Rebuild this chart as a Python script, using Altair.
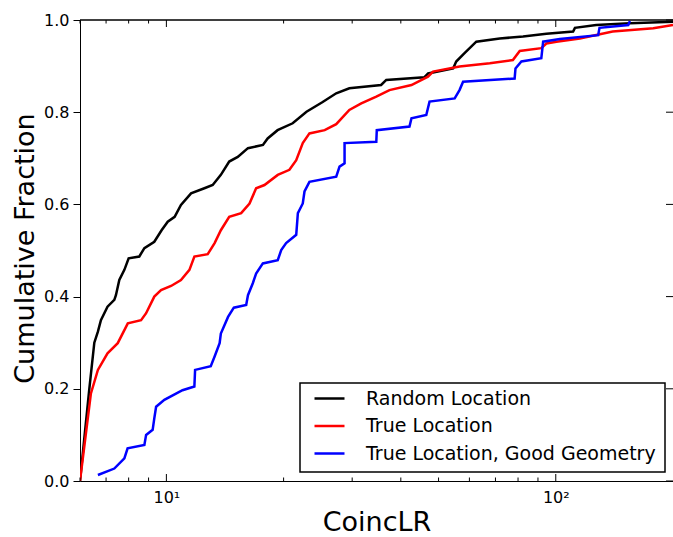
import altair as alt
import pandas as pd

# ---- data (CoincLR vs cumulative fraction) ----
black_x = [6.0, 6.34, 6.53, 6.67, 6.79, 7.06, 7.35, 7.42, 7.57, 7.80, 8.0, 8.52, 8.78, 9.31,
           9.72, 10.08, 10.5, 10.9, 11.57, 12.52, 13.15, 13.8, 14.5, 15.25, 16.2, 17.7, 18.2,
           19.3, 21.1, 22.9, 25.2, 27.3, 29.5, 35.6, 36.7, 46.0, 47.0, 54.5, 55.5, 58.3, 62.5,
           71.8, 82.4, 94.6, 110.8, 112.0, 127.0, 155.0, 200.0]
black_y = [0.0, 0.20, 0.30, 0.324, 0.349, 0.378, 0.393, 0.403, 0.436, 0.458, 0.483, 0.487, 0.505,
           0.519, 0.544, 0.5625, 0.573, 0.599, 0.624, 0.635, 0.642, 0.664, 0.693, 0.703, 0.722,
           0.729, 0.743, 0.761, 0.776, 0.801, 0.822, 0.841, 0.852, 0.859, 0.870, 0.876, 0.884,
           0.895, 0.910, 0.928, 0.953, 0.960, 0.964, 0.970, 0.975, 0.983, 0.989, 0.993, 0.996]

red_x = [6.0, 6.40, 6.67, 7.06, 7.5, 7.96, 8.61, 8.87, 9.31, 9.69, 10.28, 10.9, 11.46, 11.8,
         12.77, 13.3, 13.8, 14.5, 15.56, 16.35, 17.0, 17.86, 19.32, 20.7, 21.55, 22.4, 23.3,
         25.5, 27.3, 29.5, 31.66, 34.6, 37.4, 42.6, 46.96, 48.4, 56.6, 67.7, 77.6, 80.8, 91.8,
         94.6, 100.4, 115.3, 140.0, 178.0, 200.0]
red_y = [0.0, 0.19, 0.241, 0.277, 0.299, 0.342, 0.349, 0.364, 0.400, 0.414, 0.423, 0.436, 0.458,
         0.487, 0.492, 0.516, 0.544, 0.573, 0.581, 0.602, 0.635, 0.642, 0.664, 0.675, 0.696,
         0.733, 0.754, 0.761, 0.774, 0.805, 0.819, 0.834, 0.848, 0.859, 0.877, 0.888, 0.899,
         0.906, 0.913, 0.933, 0.939, 0.949, 0.953, 0.960, 0.975, 0.982, 0.989]

blue_x = [6.67, 7.35, 7.8, 7.95, 8.78, 8.87, 9.22, 9.31, 9.41, 9.88, 11.0, 11.8, 11.85, 13.0,
          13.3, 13.7, 13.8, 14.4, 14.9, 16.03, 16.2, 16.67, 17.0, 17.69, 19.32, 19.72, 20.3,
          21.55, 21.76, 22.4, 22.63, 23.3, 27.3, 27.84, 28.68, 28.68, 34.6, 34.7, 42.1, 42.6,
          46.5, 47.4, 55.0, 56.6, 57.8, 78.4, 78.8, 81.6, 91.8, 92.8, 102.4, 128.5, 129.5,
          153.5, 155.0]
blue_y = [0.013, 0.027, 0.049, 0.071, 0.078, 0.100, 0.111, 0.136, 0.161, 0.176, 0.197, 0.205,
          0.241, 0.249, 0.270, 0.299, 0.320, 0.356, 0.376, 0.382, 0.403, 0.429, 0.450, 0.472,
          0.479, 0.501, 0.516, 0.534, 0.581, 0.602, 0.628, 0.649, 0.660, 0.682, 0.689, 0.733,
          0.736, 0.761, 0.769, 0.787, 0.794, 0.823, 0.830, 0.848, 0.866, 0.873, 0.895, 0.910,
          0.917, 0.953, 0.959, 0.967, 0.983, 0.989, 0.998]

series_names = ["Random Location", "True Location", "True Location, Good Geometry"]
series_colors = ["#000000", "#ff0000", "#0000ff"]

x_major_ticks = [10, 100]
x_minor_ticks = [6, 7, 8, 9, 20, 30, 40, 50, 60, 70, 80, 90]
y_ticks = [0.0, 0.2, 0.4, 0.6, 0.8, 1.0]

rows = []
for name, xs, ys in zip(series_names, [black_x, red_x, blue_x], [black_y, red_y, blue_y]):
    for i, (xv, yv) in enumerate(zip(xs, ys)):
        rows.append({"series": name, "x": xv, "y": yv, "i": i})
df = pd.DataFrame(rows)

W, H = 593, 461
FONT = "DejaVu Sans"
xscale = alt.Scale(type="log", domain=[6, 200], nice=False)
yscale = alt.Scale(domain=[0, 1], nice=False)

x_axis = alt.Axis(values=x_major_ticks,
                  labelExpr="datum.value == 10 ? '10¹' : '10²'",
                  title="CoincLR", grid=False, ticks=False, tickSize=0,
                  labelPadding=8, labelFontSize=16, titleFontSize=27,
                  titleX=W / 2, titleY=49, titleBaseline="alphabetic",
                  titleAlign="center")
y_axis = alt.Axis(values=y_ticks, format=".1f", title="Cumulative Fraction",
                  grid=False, tickSize=7, labelPadding=4, labelFontSize=16,
                  titleFontSize=27, titleAngle=270, titleX=-47, titleY=228,
                  titleAlign="center", titleBaseline="alphabetic")

lines = alt.Chart(df).mark_line(strokeWidth=2.5, clip=True).encode(
    x=alt.X("x:Q", scale=xscale, axis=x_axis),
    y=alt.Y("y:Q", scale=yscale, axis=y_axis),
    color=alt.Color("series:N", title=None,
                    scale=alt.Scale(domain=series_names, range=series_colors),
                    legend=alt.Legend(orient="none", legendX=233, legendY=362,
                                      symbolType="stroke", symbolSize=900,
                                      symbolStrokeWidth=2.5, labelFontSize=19,
                                      labelFont=FONT, labelOffset=20, padding=0,
                                      rowPadding=0.5, labelLimit=400,
                                      labelColor="black")),
    order="i:Q",
)

xmaj = pd.DataFrame({"v": x_major_ticks})
xmin = pd.DataFrame({"v": x_minor_ticks})
ytk = pd.DataFrame({"v": y_ticks})


def xticks(data, length, top):
    y0 = 0 if top else H
    y1 = length if top else H - length
    return alt.Chart(data).mark_rule(color="black", strokeWidth=1).encode(
        x=alt.X("v:Q", scale=xscale, axis=x_axis),
        y=alt.value(y0), y2=alt.value(y1))


right_ticks = alt.Chart(ytk).mark_rule(color="black", strokeWidth=1).encode(
    y=alt.Y("v:Q", scale=yscale, axis=y_axis),
    x=alt.value(W), x2=alt.value(W - 7))

top_spine = alt.Chart(xmaj).mark_rule(color="black", strokeWidth=1).encode(
    x=alt.value(0), x2=alt.value(W), y=alt.value(0))

legend_box = alt.Chart(xmaj.head(1)).mark_rect(
    fill="white", stroke="black", strokeWidth=1.5).encode(
    x=alt.value(220), x2=alt.value(585), y=alt.value(363), y2=alt.value(452))

chart = alt.layer(
    lines,
    xticks(xmaj, 7, False), xticks(xmin, 3.5, False),
    xticks(xmaj, 7, True), xticks(xmin, 3.5, True),
    right_ticks, top_spine, legend_box,
).properties(
    width=W, height=H,
    padding={"left": 80, "top": 20, "right": 0, "bottom": 56},
    autosize=alt.AutoSizeParams(type="none"),
).configure_view(stroke="transparent").configure_axis(
    labelFont=FONT, titleFont=FONT, labelColor="black", titleColor="black",
    titleFontWeight="normal", domainColor="black", domainWidth=1,
    tickColor="black", tickWidth=1,
)

chart.save("out.html", embed_options={"renderer": "svg", "actions": False})
